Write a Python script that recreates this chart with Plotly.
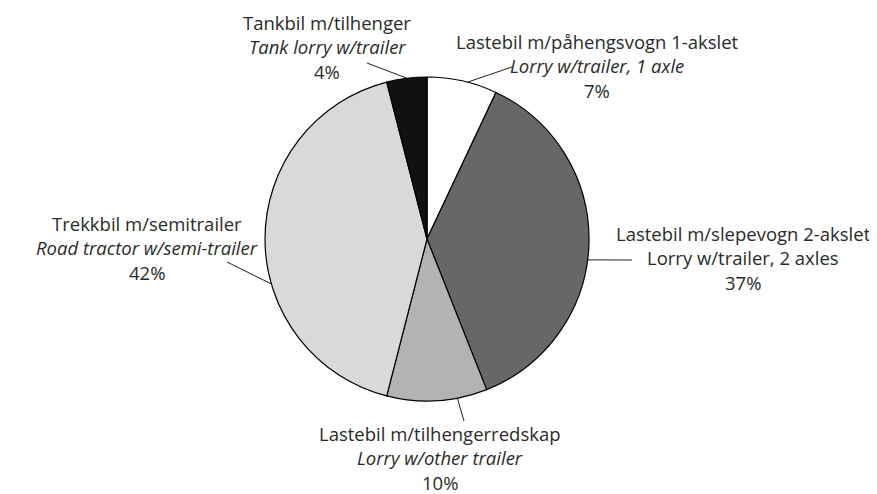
import math
import plotly.graph_objects as go

# ---- data ----
labels_no = ["Lastebil m/påhengsvogn 1-akslet", "Lastebil m/slepevogn 2-akslet",
             "Lastebil m/tilhengerredskap", "Trekkbil m/semitrailer", "Tankbil m/tilhenger"]
labels_en = ["Lorry w/trailer, 1 axle", "Lorry w/trailer, 2 axles",
             "Lorry w/other trailer", "Road tractor w/semi-trailer", "Tank lorry w/trailer"]
shares = [7, 37, 10, 42, 4]
colors = ["#ffffff", "#676767", "#b3b3b3", "#d9d9d9", "#111111"]

# ---- layout constants (pixels) ----
W, H = 877, 494
OFF = 8  # page body margin
CX, CY, R = 427, 239, 162
label_style = [
    dict(x=597, y=41, italic=True, ang=14.5, end=(512, 67)),
    dict(x=743, y=233, italic=False, ang=97.4, end=(632, 260)),
    dict(x=440, y=433, italic=True, ang=169.2, end=(464, 421)),
    dict(x=147, y=223, italic=True, ang=253.9, end=(227, 262)),
    dict(x=327, y=22, italic=True, ang=352.9, end=(367, 63)),
]
LINE_GAP = 24.5

def px(x):
    return (x - OFF) / W

def py(y):
    return 1 - (y - OFF) / H

fig = go.Figure(go.Pie(
    values=shares,
    labels=labels_en,
    sort=False,
    direction="clockwise",
    rotation=0,
    marker=dict(colors=colors, line=dict(color="#000000", width=1.2)),
    textinfo="none",
    hoverinfo="label+percent",
    showlegend=False,
    domain=dict(x=[px(CX - R), px(CX + R)], y=[py(CY + R), py(CY - R)]),
))

font_base = dict(family="Open Sans, Noto Sans, sans-serif", size=18.5, color="#2a2a2a")
annotations = []
shapes = []
for i, st in enumerate(label_style):
    lines = [labels_no[i],
             f"<i>{labels_en[i]}</i>" if st["italic"] else labels_en[i],
             f"{shares[i]}%"]
    for k, t in enumerate(lines):
        annotations.append(dict(
            x=px(st["x"]), y=py(st["y"] + k * LINE_GAP), xref="paper", yref="paper",
            text=t, showarrow=False, xanchor="center", yanchor="middle",
            font=font_base,
        ))
    a = math.radians(st["ang"])
    ex, ey = CX + R * math.sin(a), CY - R * math.cos(a)
    shapes.append(dict(
        type="line", xref="paper", yref="paper",
        x0=px(ex), y0=py(ey), x1=px(st["end"][0]), y1=py(st["end"][1]),
        line=dict(color="#231f20", width=1),
    ))

fig.update_layout(
    width=W, height=H,
    margin=dict(l=0, r=0, t=0, b=0),
    paper_bgcolor="#ffffff",
    plot_bgcolor="#ffffff",
    annotations=annotations,
    shapes=shapes,
)

fig.write_html("out.html")
